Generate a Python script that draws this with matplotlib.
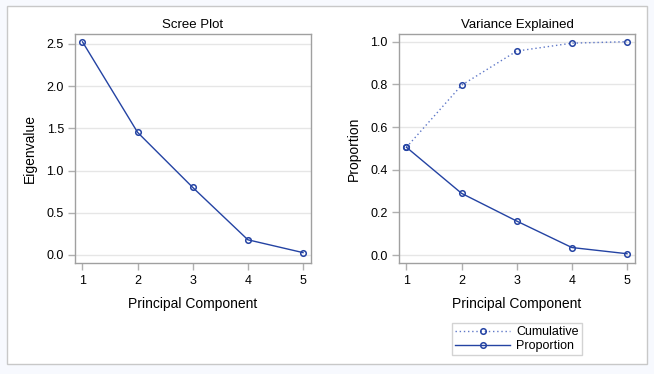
import matplotlib
matplotlib.use("Agg")
import matplotlib.pyplot as plt
from matplotlib.patches import Rectangle

components = [1, 2, 3, 4, 5]
eigenvalues = [2.525, 1.452, 0.800, 0.180, 0.028]
proportion = [0.505, 0.289, 0.159, 0.035, 0.006]
cumulative = [0.505, 0.796, 0.956, 0.993, 1.000]
left_yticks = [0.0, 0.5, 1.0, 1.5, 2.0, 2.5]
right_yticks = [0.0, 0.2, 0.4, 0.6, 0.8, 1.0]

plt.rcParams['font.family'] = ['Liberation Sans', 'DejaVu Sans']

W, H = 654, 374
fig = plt.figure(figsize=(W / 100, H / 100), dpi=100)
fig.patch.set_facecolor('#f7f9fe')
fig.patches.append(Rectangle((7 / W, 1 - 364 / H), 640 / W, 358 / H,
                             transform=fig.transFigure, facecolor='white',
                             edgecolor='#c8c8c8', linewidth=1.0, zorder=-5))

line_dark = '#2443a3'
line_light = '#5f78c8'
frame_col = '#a0a0a0'


def make_ax(x0, x1, y0, y1):
    return fig.add_axes([x0 / W, 1 - y1 / H, (x1 - x0) / W, (y1 - y0) / H])


def style(ax, yticks, fmt):
    ax.set_xticks(components)
    ax.set_xticklabels([str(c) for c in components])
    ax.set_yticks(yticks)
    ax.set_yticklabels([fmt.format(v) for v in yticks])
    for s in ax.spines.values():
        s.set_color(frame_col)
        s.set_linewidth(1.0)
    ax.tick_params(axis='both', colors='#b0b0b0', labelcolor='black',
                   labelsize=9, length=5, width=1, direction='out')
    ax.tick_params(axis='x', pad=4)
    ax.tick_params(axis='y', pad=3)
    ax.yaxis.grid(True, color='#e6e6e6', linewidth=1)
    ax.set_axisbelow(True)
    ax.set_xlabel('Principal Component', fontsize=10, labelpad=7)


mk = dict(marker='o', markersize=4.0, markerfacecolor='none', markeredgewidth=1.1)

ax1 = make_ax(75, 311, 34, 263)
ax1.plot(components, eigenvalues, color=line_dark, linewidth=1.0,
         markeredgecolor=line_dark, **mk)
ax1.set_xlim(0.864, 5.145)
ax1.set_ylim(-0.095, 2.618)
style(ax1, left_yticks, '{:.1f}')
ax1.set_ylabel('Eigenvalue', fontsize=10, labelpad=7)
ax1.set_title('Scree Plot', fontsize=9.5, pad=4)

ax2 = make_ax(399, 635, 34, 263)
ax2.plot(components, cumulative, color=line_light, linewidth=1.0,
         linestyle=(0, (1, 2)), markeredgecolor=line_dark, label='Cumulative', **mk)
ax2.plot(components, proportion, color=line_dark, linewidth=1.0,
         markeredgecolor=line_dark, label='Proportion', **mk)
ax2.set_xlim(0.865, 5.145)
ax2.set_ylim(-0.0375, 1.036)
style(ax2, right_yticks, '{:.1f}')
ax2.set_ylabel('Proportion', fontsize=10, labelpad=7)
ax2.set_title('Variance Explained', fontsize=9.5, pad=4)

leg = ax2.legend(loc='upper center', bbox_to_anchor=(517 / W, 1 - 323 / H),
                 bbox_transform=fig.transFigure, fontsize=9, frameon=True,
                 fancybox=False, edgecolor='#c8c8c8', handlelength=4.4,
                 borderpad=0.25, labelspacing=0.15, handletextpad=0.5,
                 borderaxespad=0)
leg.get_frame().set_linewidth(1.0)

fig.savefig('out.png', dpi=100, facecolor=fig.get_facecolor())
